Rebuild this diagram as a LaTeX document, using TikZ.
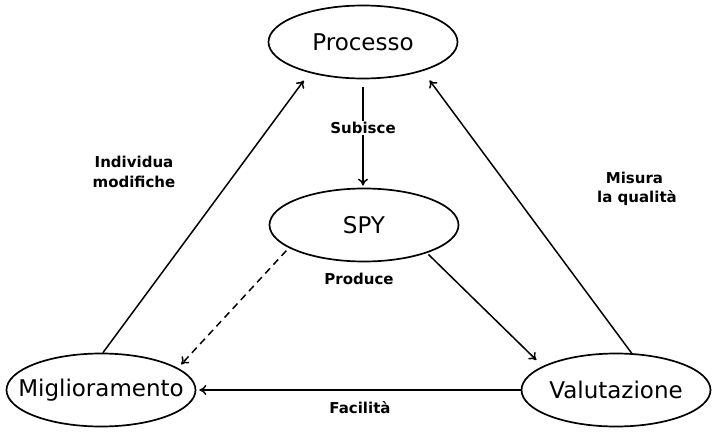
\documentclass[tikz,border=0pt]{standalone}
\usepackage{fontspec}
\setmainfont{DejaVu Sans}
\usetikzlibrary{shapes.geometric,arrows.meta}
\newcommand{\zw}[1]{\makebox[0pt]{#1}}
\begin{document}
\begin{tikzpicture}[x=1pt,y=-1pt,
  state/.style={ellipse,draw,line width=1.7pt,minimum width=189pt,minimum height=73pt,inner sep=0pt,font=\fontsize{23}{27}\selectfont},
  edgelbl/.style={font=\fontsize{15}{19.5}\selectfont\bfseries,align=center,inner sep=1pt},
  conn/.style={line width=1.5pt,-{To[length=7pt,width=10pt]}}]
\useasboundingbox (0,0) rectangle (715,433);
\fill[white] (0,0) rectangle (715,433);
\node[state] (p) at (363,42) {\zw{Processo}};
\node[state] (s) at (364,225) {\zw{SPY}};
\node[state] (m) at (101,390) {\zw{Miglioramento}};
\node[state] (v) at (616,390) {\zw{Valutazione}};
% connectors
\draw[conn,shorten <=8pt,shorten >=2pt] (p.south) -- (p.south |- s.north)
  node[edgelbl,fill=white,pos=0.45] (lsub) {Subisce};
\draw[conn,shorten >=9.5pt] (m.87) -- (p.210);
\draw[conn,shorten >=11.5pt] (v.67) -- (p.334);
\draw[conn,shorten <=2pt,shorten >=8.7pt] (s.336) -- (v.162);
\draw[conn,shorten >=3pt] (v.west) -- (m.east);
\draw[conn,dashed,dash pattern=on 7pt off 5pt,shorten <=3.7pt,shorten >=4.8pt] (s.197) -- (m.16);
% labels
\node[edgelbl] (lind) at (134,172) {Individua\\modifiche};
\node[edgelbl] (lmis) at (634.5,189) {Misura\\\hspace*{5pt}la qualità};
\node[edgelbl] (lpro) at (359,279) {Produce};
\node[edgelbl] (lfac) at (360,408) {Facilità};
\end{tikzpicture}
\end{document}
